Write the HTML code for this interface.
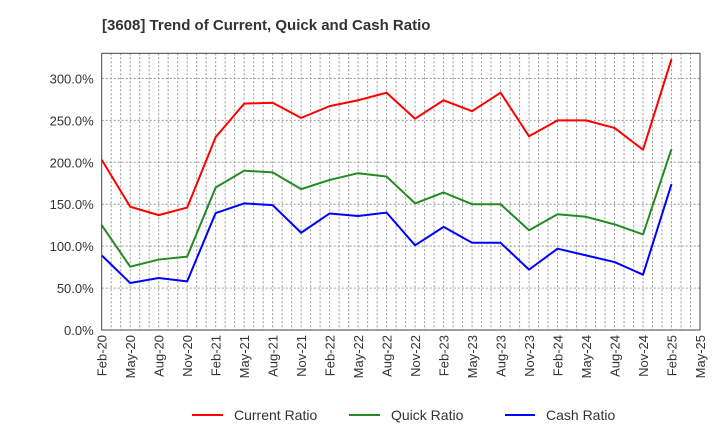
<!DOCTYPE html>
<html><head><meta charset="utf-8"><style>
body{margin:0;background:#fff;font-family:"Liberation Sans",sans-serif;}
svg{display:block}
</style></head><body>
<svg id="chart" width="720" height="440" xmlns="http://www.w3.org/2000/svg">
<text x="102" y="30" font-size="15" font-weight="bold" fill="#333">[3608]  Trend of Current, Quick and Cash Ratio</text>
<g id="grid"></g>
<g id="yaxis"></g>
<g id="xaxis"></g>
<g id="series"></g>
<rect x="101.7" y="53.3" width="598.3" height="276.7" fill="none" stroke="#444" stroke-width="1"/>
<g>
<g><line x1="192" y1="415" x2="223" y2="415" stroke="#ff0000" stroke-width="2"/><text x="234" y="420" font-size="14" fill="#333">Current Ratio</text></g>
<g><line x1="349" y1="415" x2="380" y2="415" stroke="#228b22" stroke-width="2"/><text x="391" y="420" font-size="14" fill="#333">Quick Ratio</text></g>
<g><line x1="505" y1="415" x2="535" y2="415" stroke="#0000ff" stroke-width="2"/><text x="546" y="420" font-size="14" fill="#333">Cash Ratio</text></g>
</g>
</svg>
<script>
const tickLabels=["Feb-20","May-20","Aug-20","Nov-20","Feb-21","May-21","Aug-21","Nov-21","Feb-22","May-22","Aug-22","Nov-22","Feb-23","May-23","Aug-23","Nov-23","Feb-24","May-24","Aug-24","Nov-24","Feb-25","May-25"];
const yTicks=[0,50,100,150,200,250,300];
const currentRatio=[203,147,137,146,230,270,271,253,267,274,283,252,274,261,283,231,250,250,241,215,323];
const quickRatio=[125,75.5,84,87.5,170,190,188,168,179,187,183,151,164,150,150,119,138,135,126,114,216];
const cashRatio=[89,56,62,58,139.5,151,149,116,139,136,140,101,123,104,104,72,97,89,81,66,174];
const X0=101.7,X1=700,Y0=330,Y1=53.3,YMAX=330,NMONTHS=63;
const ns="http://www.w3.org/2000/svg";
function xm(m){return X0+(X1-X0)*m/NMONTHS;}
function xq(i){return xm(i*3);}
function y(v){return Y0-(Y0-Y1)*v/YMAX;}
function mk(t,a,p){const e=document.createElementNS(ns,t);for(const k in a)e.setAttribute(k,a[k]);p.appendChild(e);return e;}
const grid=document.getElementById('grid');
for(let m=1;m<NMONTHS;m++){const l=mk('line',{x1:xm(m),x2:xm(m),y1:Y1,y2:Y0,stroke:'#999','stroke-width':1,'stroke-dasharray':'2,2'},grid);

}
const ya=document.getElementById('yaxis');
yTicks.forEach(v=>{if(v>0){const l=mk('line',{x1:X0,x2:X1,y1:y(v),y2:y(v),stroke:'#999','stroke-width':1,'stroke-dasharray':'2,2'},grid);

}
const t=mk('text',{x:X0-8,y:y(v)+5,'text-anchor':'end','font-size':'13',fill:'#333'},ya);t.textContent=v.toFixed(1)+'%';

});
const xa=document.getElementById('xaxis');
tickLabels.forEach((s,i)=>{const x=xq(i);const t=mk('text',{x:0,y:0,transform:`translate(${x+5},335) rotate(-90)`,'text-anchor':'end','font-size':'13',fill:'#333'},xa);t.textContent=s;

});
const sg=document.getElementById('series');
[[currentRatio,'#ff0000','current-ratio-line'],[quickRatio,'#228b22','quick-ratio-line'],[cashRatio,'#0000ff','cash-ratio-line']].forEach(([d,c,n])=>{
const p=mk('polyline',{points:d.map((v,i)=>xq(i)+','+y(v)).join(' '),fill:'none',stroke:c,'stroke-width':2,'stroke-linejoin':'round'},sg);

});
</script>
</body></html>
